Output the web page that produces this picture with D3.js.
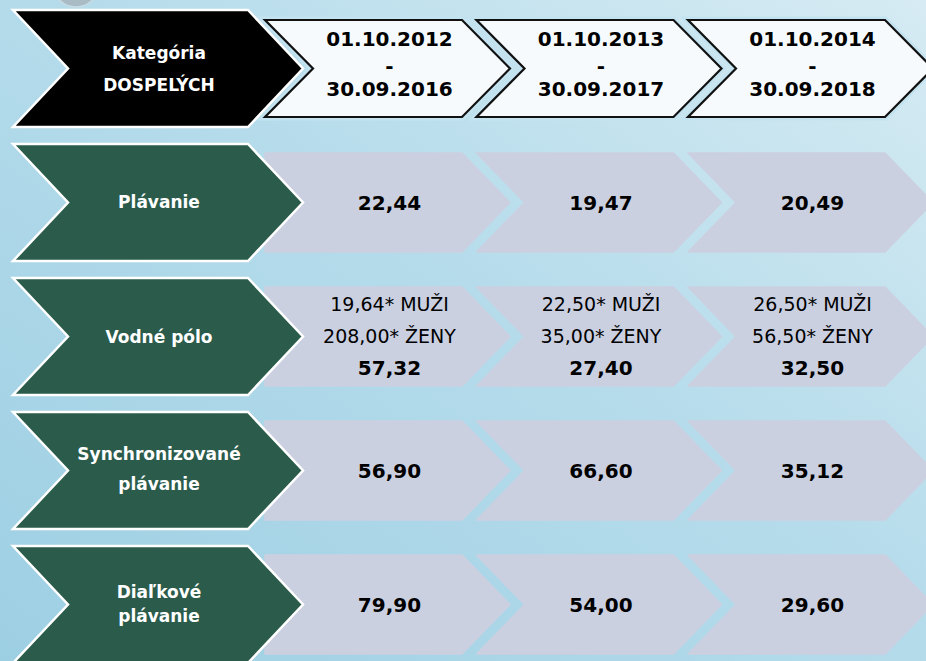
<!DOCTYPE html>
<html>
<head>
<meta charset="utf-8">
<script src="https://cdn.jsdelivr.net/npm/d3@7"></script>
<style>
  html, body { margin: 0; padding: 0; overflow: hidden; }
  svg { display: block; }
</style>
</head>
<body>
<svg id="chart" width="926" height="661"></svg>
<script>
// data
var headerLines = ["Kategória", "DOSPELÝCH"]
var periodStart = ["01.10.2012", "01.10.2013", "01.10.2014"]
var periodEnd = ["30.09.2016", "30.09.2017", "30.09.2018"]
var categories = ["Plávanie", "Vodné pólo", "Synchronizované plávanie", "Diaľkové plávanie"]
var categoryLines = [["Plávanie"], ["Vodné pólo"], ["Synchronizované", "plávanie"], ["Diaľkové", "plávanie"]]
var plavanie = [22.44, 19.47, 20.49]
var vodnePolo = [57.32, 27.40, 32.50]
var vodnePoloMuzi = [19.64, 22.50, 26.50]
var vodnePoloZeny = [208.00, 35.00, 56.50]
var synchronizovane = [56.90, 66.60, 35.12]
var dialkove = [79.90, 54.00, 29.60]
var values = [plavanie, vodnePolo, synchronizovane, dialkove]

var width = 926, height = 661
var svg = d3.select("#chart")
var font = "DejaVu Sans"
var sk = d3.formatLocale({ decimal: ",", thousands: " ", grouping: [3], currency: ["", " €"] })
var fmt = sk.format(".2f")

// background
var defs = svg.append("defs")
var bg = defs.append("linearGradient").attr("id", "bg")
  .attr("x1", 0).attr("y1", 1).attr("x2", 1).attr("y2", 0)
bg.append("stop").attr("offset", "0%").attr("stop-color", "#9dcfe3")
bg.append("stop").attr("offset", "55%").attr("stop-color", "#b6dceb")
bg.append("stop").attr("offset", "100%").attr("stop-color", "#d6ebf3")
var bubble = defs.append("radialGradient").attr("id", "bubble").attr("cx", "45%").attr("cy", "35%")
bubble.append("stop").attr("offset", "0%").attr("stop-color", "#f4f8fa")
bubble.append("stop").attr("offset", "100%").attr("stop-color", "#a9bcc6")

svg.append("rect").attr("width", width).attr("height", height).attr("fill", "url(#bg)")
svg.append("circle").attr("cx", 76).attr("cy", -16).attr("r", 23)
  .attr("fill", "url(#bubble)").attr("stroke", "#c9dbe3").attr("stroke-width", 1.5)

// scales
var y = d3.scaleBand().domain(d3.range(categories.length + 1)).range([10, 663]).paddingInner(0.127)
var x = d3.scaleBand().domain(periodStart).range([265, 899.5]).padding(0)
var shapeW = 245, tip = 48
var labelX0 = 13, labelX1 = 303, labelTip = 55

function chevron(x0, y0, w, h, d, notch) {
  var p = [[x0, y0], [x0 + w - d, y0], [x0 + w, y0 + h / 2], [x0 + w - d, y0 + h], [x0, y0 + h]]
  if (notch) p.push([x0 + d, y0 + h / 2])
  return "M" + p.map(function (q) { return q.join(",") }).join("L") + "Z"
}

// left column (header + categories)
var leftRows = [{ lines: headerLines, fill: "#000000", offs: [-9.5, 22.5] }].concat(
  categoryLines.map(function (l, i) {
    var offs = l.length == 1 ? [6] : (i == 2 ? [-10.5, 19.5] : [-6.5, 17.5])
    return { lines: l, fill: "#2a5b4b", offs: offs }
  }))

var left = svg.selectAll(".left").data(leftRows).enter().append("g").attr("class", "left")
left.append("path")
  .attr("d", function (d, i) { return chevron(labelX0, y(i), labelX1 - labelX0, y.bandwidth(), labelTip, true) })
  .attr("fill", function (d) { return d.fill })
  .attr("stroke", "#ffffff").attr("stroke-width", 2.5)
left.each(function (d, i) {
  var cy = y(i) + y.bandwidth() / 2
  d3.select(this).selectAll("text").data(d.lines).enter().append("text")
    .attr("x", 159).attr("y", function (t, j) { return cy + d.offs[j] })
    .attr("text-anchor", "middle").attr("font-family", font).attr("font-weight", "bold")
    .attr("font-size", 17).attr("fill", "#ffffff").text(function (t) { return t })
})

// header periods
var hy = y(0) + 10, hh = y.bandwidth() - 20
var head = svg.selectAll(".head").data(periodStart).enter().append("g").attr("class", "head")
head.append("path")
  .attr("d", function (d) { return chevron(x(d), hy, shapeW, hh, tip, true) })
  .attr("fill", "none").attr("stroke", "#c4e3f0").attr("stroke-width", 7)
head.append("path")
  .attr("d", function (d) { return chevron(x(d), hy, shapeW, hh, tip, true) })
  .attr("fill", "#f6fafc").attr("stroke", "#111111").attr("stroke-width", 2.2)
head.each(function (d, i) {
  var cx = x(d) + shapeW / 2 + 2, cy = hy + hh / 2
  var lines = [[periodStart[i], -22.5], ["-", 5], [periodEnd[i], 27.5]]
  d3.select(this).selectAll("text").data(lines).enter().append("text")
    .attr("x", cx).attr("y", function (t) { return cy + t[1] })
    .attr("text-anchor", "middle").attr("font-family", font).attr("font-weight", "bold")
    .attr("font-size", 20).attr("fill", "#000000").text(function (t) { return t[0] })
})

// value cells
var vInset = 9
categories.forEach(function (cat, r) {
  var g = svg.append("g").attr("class", "row")
  var ry = y(r + 1) + vInset, rh = y.bandwidth() - 2 * vInset
  var cy = ry + rh / 2
  g.selectAll("path").data(periodStart).enter().append("path")
    .attr("d", function (d, i) { return chevron(x(d), ry, shapeW, rh, tip, i > 0) })
    .attr("fill", "#cbd0e1").attr("stroke", "#cbd0e1").attr("stroke-width", 1.5)
    .attr("stroke-linejoin", "round")
  // re-draw label tip on top so it overlaps first cell
  g.lower()
  values[r].forEach(function (v, i) {
    var cx = x(periodStart[i]) + shapeW / 2 + 2
    if (r == 1) {
      g.append("text").attr("x", cx).attr("y", cy - 26)
        .attr("text-anchor", "middle").attr("font-family", font).attr("font-size", 19)
        .attr("fill", "#000000").text(fmt(vodnePoloMuzi[i]) + "* MUŽI")
      g.append("text").attr("x", cx).attr("y", cy + 6)
        .attr("text-anchor", "middle").attr("font-family", font).attr("font-size", 19)
        .attr("fill", "#000000").text(fmt(vodnePoloZeny[i]) + "* ŽENY")
      g.append("text").attr("x", cx).attr("y", cy + 38)
        .attr("text-anchor", "middle").attr("font-family", font).attr("font-weight", "bold")
        .attr("font-size", 20).attr("fill", "#000000").text(fmt(v))
    } else {
      g.append("text").attr("x", cx).attr("y", cy + 7.5)
        .attr("text-anchor", "middle").attr("font-family", font).attr("font-weight", "bold")
        .attr("font-size", 20).attr("fill", "#000000").text(fmt(v))
    }
  })
})
// keep background at the very back
svg.select("rect").lower()
</script>
</body>
</html>
